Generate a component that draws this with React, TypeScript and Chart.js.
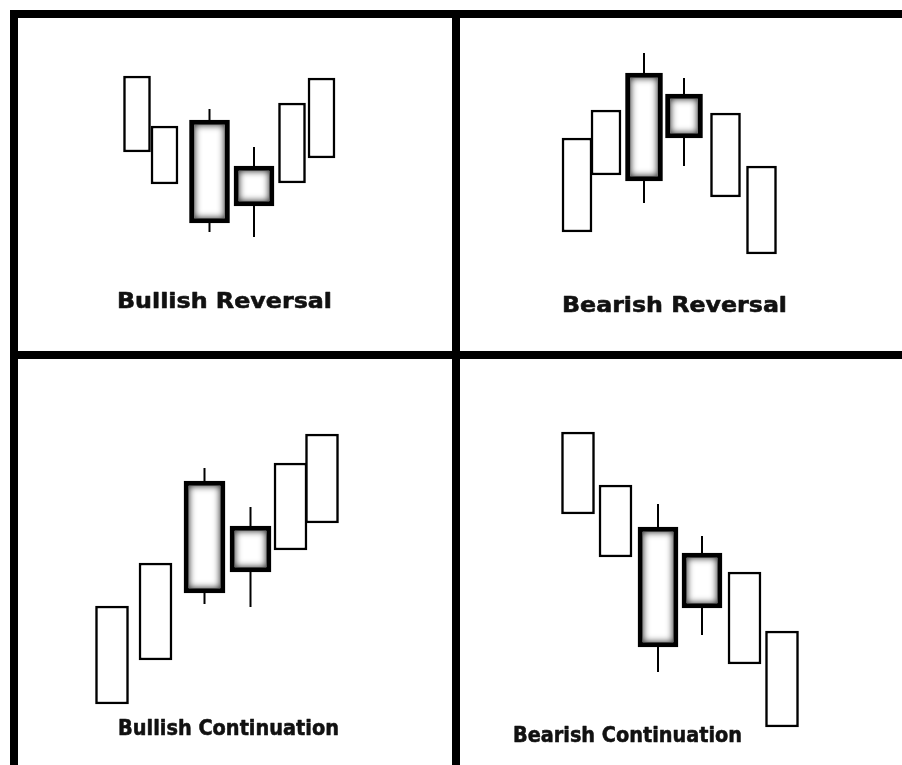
import React, { useEffect, useRef } from 'react';
import { Chart, registerables } from 'chart.js';

Chart.register(...registerables);

// ---- data (x = time units, y = price units) ----
const panelTitles = ['Bullish Reversal', 'Bearish Reversal', 'Bullish Continuation', 'Bearish Continuation'];
const candleKinds = ['hollow', 'hollow', 'marked', 'marked', 'hollow', 'hollow'];

// Bullish Reversal
const bullRevX = [11.9, 14.65, 19.15, 23.6, 27.4, 30.35];
const bullRevOpen = [19.9, 16.7, 23.1, 18.5, 16.8, 19.3];
const bullRevClose = [27.5, 22.5, 12.8, 14.5, 24.8, 27.3];
const bullRevHigh = [27.5, 22.5, 24.2, 20.4, 24.8, 27.3];
const bullRevLow = [19.9, 16.7, 11.9, 11.4, 16.8, 19.3];

// Bearish Reversal
const bearRevX = [11.7, 14.6, 18.4, 22.4, 26.55, 30.15];
const bearRevOpen = [11.9, 17.6, 17.0, 21.3, 15.4, 9.7];
const bearRevClose = [21.3, 24.1, 27.8, 25.7, 23.8, 18.5];
const bearRevHigh = [21.3, 24.1, 29.8, 27.3, 23.8, 18.5];
const bearRevLow = [11.9, 17.6, 14.8, 18.5, 15.4, 9.7];

// Bullish Continuation
const bullContX = [9.4, 13.75, 18.65, 23.25, 27.25, 30.4];
const bullContOpen = [6.1, 10.5, 17.2, 19.3, 21.5, 24.2];
const bullContClose = [15.9, 20.2, 28.4, 23.9, 30.2, 33.1];
const bullContHigh = [15.9, 20.2, 29.7, 25.8, 30.2, 33.1];
const bullContLow = [6.1, 10.5, 16.1, 15.8, 21.5, 24.2];

// Bearish Continuation
const bearContX = [11.8, 15.55, 19.8, 24.2, 28.45, 32.2];
const bearContOpen = [25.1, 20.8, 23.8, 21.2, 10.1, 3.8];
const bearContClose = [33.3, 28.0, 11.8, 15.7, 19.3, 13.4];
const bearContHigh = [33.3, 28.0, 26.1, 22.9, 19.3, 13.4];
const bearContLow = [25.1, 20.8, 9.3, 13.0, 10.1, 3.8];

const seriesSets = [
  { x: bullRevX, open: bullRevOpen, close: bullRevClose, high: bullRevHigh, low: bullRevLow },
  { x: bearRevX, open: bearRevOpen, close: bearRevClose, high: bearRevHigh, low: bearRevLow },
  { x: bullContX, open: bullContOpen, close: bullContClose, high: bullContHigh, low: bullContLow },
  { x: bearContX, open: bearContOpen, close: bearContClose, high: bearContHigh, low: bearContLow },
];

// ---- layout / style (not data) ----
const panelLayout = [
  { left: 18, top: 18, width: 434, height: 333, hollowW: 27, markedW: 40, labelX: 20.65, labelY: 4.3, labelW: 215 },
  { left: 460, top: 18, width: 442, height: 333, hollowW: 30, markedW: 37, labelX: 21.45, labelY: 3.9, labelW: 225 },
  { left: 18, top: 359, width: 434, height: 406, hollowW: 33, markedW: 41, labelX: 21.05, labelY: 3.0, labelW: 221 },
  { left: 460, top: 359, width: 442, height: 406, hollowW: 33, markedW: 40, labelX: 16.75, labelY: 2.3, labelW: 229 },
];

const MARKED_BORDER = 5;

function CandlePanel({ index }: { index: number }) {
  const ref = useRef<HTMLCanvasElement | null>(null);
  const lay = panelLayout[index];
  const s = seriesSets[index];
  const title = panelTitles[index];

  useEffect(() => {
    if (!ref.current) return;
    const idx = s.x.map((_, i) => i);
    const hollow = idx.filter((i) => candleKinds[i] === 'hollow');
    const marked = idx.filter((i) => candleKinds[i] === 'marked');

    const labelPlugin = {
      id: 'panelLabel' + index,
      afterDraw(chart: any) {
        const { ctx } = chart;
        const px = chart.scales.x.getPixelForValue(lay.labelX);
        const py = chart.scales.y.getPixelForValue(lay.labelY);
        ctx.save();
        ctx.font = 'bold 22px "DejaVu Sans"';
        ctx.fillStyle = '#111';
        ctx.strokeStyle = '#111';
        ctx.lineWidth = 0.6;
        ctx.lineJoin = 'round';
        ctx.textAlign = 'center';
        ctx.textBaseline = 'alphabetic';
        const w = ctx.measureText(title).width;
        ctx.translate(px, py);
        ctx.scale(lay.labelW / w, 1);
        ctx.fillText(title, 0, 0);
        ctx.strokeText(title, 0, 0);
        ctx.restore();
      },
    };

    const shadePlugin = {
      id: 'innerShade' + index,
      afterDatasetsDraw(chart: any) {
        const meta = chart.getDatasetMeta(1);
        const { ctx } = chart;
        meta.data.forEach((el: any) => {
          const { x, y, base, width } = el.getProps(['x', 'y', 'base', 'width'], true);
          const l = x - width / 2 + MARKED_BORDER;
          const t = Math.min(y, base) + MARKED_BORDER;
          const w = width - 2 * MARKED_BORDER;
          const h = Math.abs(base - y) - 2 * MARKED_BORDER;
          ctx.save();
          ctx.beginPath();
          ctx.rect(l, t, w, h);
          ctx.clip();
          ctx.shadowColor = 'rgba(0,0,0,0.85)';
          ctx.shadowBlur = 7;
          ctx.lineWidth = 8;
          ctx.strokeStyle = '#000';
          ctx.strokeRect(l - 4, t - 4, w + 8, h + 8);
          ctx.restore();
        });
      },
    };

    const chart = new Chart(ref.current, {
      type: 'bar',
      data: {
        datasets: [
          {
            label: 'bodies',
            data: hollow.map((i) => ({ x: s.x[i], y: [s.open[i], s.close[i]] })),
            backgroundColor: '#ffffff',
            borderColor: '#000000',
            borderWidth: 2.5,
            borderSkipped: false,
            barThickness: lay.hollowW,
            grouped: false,
          } as any,
          {
            label: 'marked bodies',
            data: marked.map((i) => ({ x: s.x[i], y: [s.open[i], s.close[i]] })),
            backgroundColor: '#ffffff',
            borderColor: '#000000',
            borderWidth: MARKED_BORDER,
            borderSkipped: false,
            barThickness: lay.markedW,
            grouped: false,
          } as any,
          {
            label: 'wicks',
            data: marked.map((i) => ({ x: s.x[i], y: [s.low[i], s.high[i]] })),
            backgroundColor: '#000000',
            borderWidth: 0,
            inflateAmount: 0,
            barThickness: 2,
            grouped: false,
          } as any,
        ],
      },
      options: {
        animation: false,
        responsive: false,
        events: [],
        layout: { padding: 0 },
        plugins: { legend: { display: false }, tooltip: { enabled: false }, title: { display: false } },
        scales: {
          x: { type: 'linear', min: 0, max: lay.width / 10, display: false, offset: false, grid: { display: false } },
          y: { type: 'linear', min: 0, max: lay.height / 10, display: false, grid: { display: false } },
        },
      },
      plugins: [shadePlugin, labelPlugin],
    } as any);
    return () => chart.destroy();
  }, []);

  return (
    <div style={{ position: 'absolute', left: lay.left, top: lay.top, width: lay.width, height: lay.height, background: '#fff' }}>
      <canvas ref={ref} width={lay.width} height={lay.height} style={{ display: 'block' }} />
    </div>
  );
}

export default function App() {
  return (
    <div style={{ position: 'absolute', left: 0, top: 0, width: 902, height: 765, background: '#fff', overflow: 'hidden' }}>
      <div style={{ position: 'absolute', left: 10, top: 10, width: 892, height: 755, background: '#000' }} />
      {panelLayout.map((_, i) => (
        <CandlePanel key={i} index={i} />
      ))}
    </div>
  );
}
